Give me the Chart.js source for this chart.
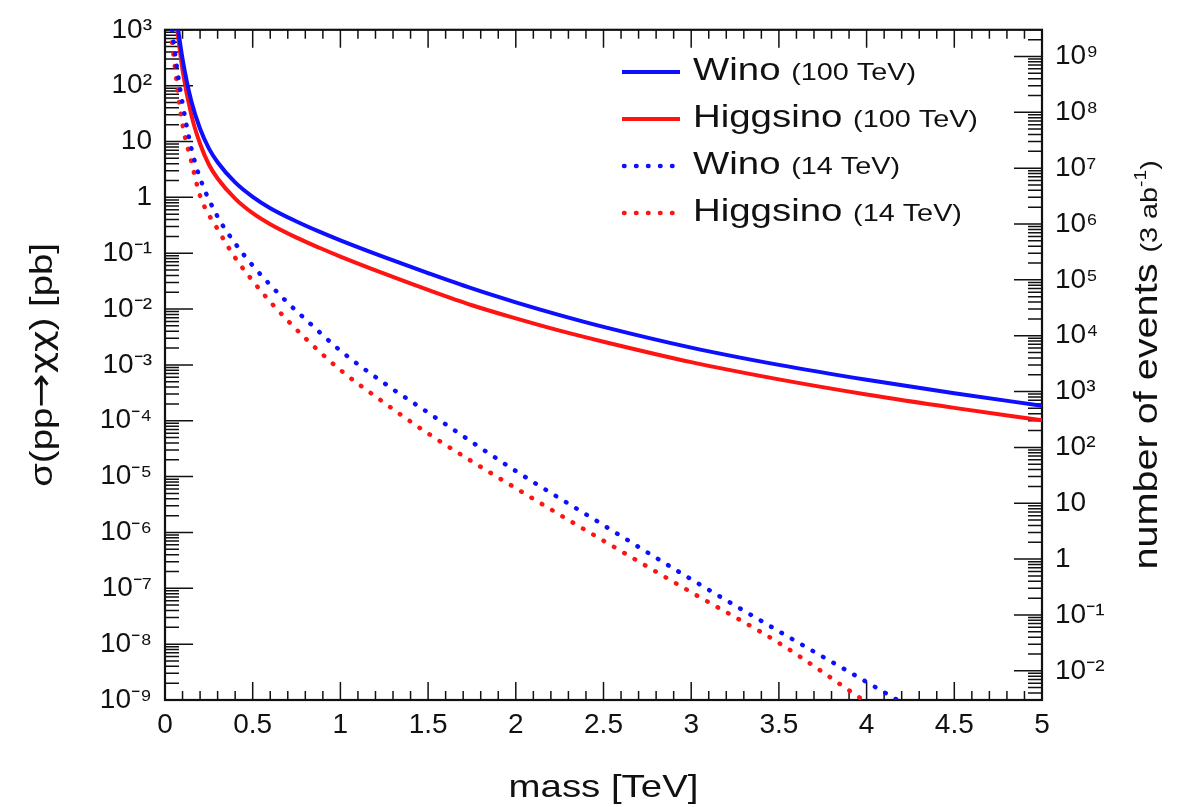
<!DOCTYPE html>
<html>
<head>
<meta charset="utf-8">
<script src="https://cdn.jsdelivr.net/npm/chart.js@4.4.1/dist/chart.umd.min.js"></script>
<style>
  html, body { margin: 0; padding: 0; background: #fff; }
  canvas { display: block; }
</style>
</head>
<body>
<canvas id="xsec-chart" width="1181" height="807"></canvas>
<script>
// cross sections in pb (mass in TeV)
const massW100 = [0.075, 0.1, 0.15, 0.2, 0.25, 0.3, 0.4, 0.5, 0.6, 0.75, 0.88, 1.0, 1.25, 1.5, 1.75, 2.0, 2.25, 2.5, 3.0, 3.5, 4.0, 4.5, 5.0];
const xsecW100 = [1000, 300, 53, 16.9, 7.55, 4.25, 1.85, 1.02, 0.64, 0.37, 0.243, 0.17, 0.085, 0.044, 0.0234, 0.0132, 0.0078, 0.0048, 0.00204, 0.0010, 0.00054, 0.00031, 0.000186];

const massH100 = [0.07, 0.1, 0.15, 0.2, 0.25, 0.3, 0.4, 0.5, 0.6, 0.75, 0.88, 1.0, 1.25, 1.5, 1.75, 2.0, 2.25, 2.5, 3.0, 3.5, 4.0, 4.5, 5.0];
const xsecH100 = [1000, 190, 30, 9.1, 3.87, 2.18, 0.95, 0.52, 0.33, 0.19, 0.125, 0.087, 0.043, 0.022, 0.0117, 0.0068, 0.0041, 0.0026, 0.00112, 0.00055, 0.000295, 0.00017, 0.000102];

const massW14 = [0.04, 0.07, 0.1, 0.15, 0.2, 0.3, 0.4, 0.5, 0.6, 0.7, 0.8, 1.0, 1.25, 1.5, 2.0, 2.5, 3.0, 3.5, 4.0, 4.2];
const xsecW14 = [1000, 190, 48, 7.6, 2.2, 0.45, 0.15, 0.060, 0.027, 0.0129, 0.0066, 0.0018, 0.00047, 0.00014, 1.26e-5, 1.35e-6, 1.45e-7, 1.7e-8, 2.1e-9, 9e-10];

const massH14 = [0.04, 0.07, 0.1, 0.15, 0.2, 0.3, 0.4, 0.5, 0.6, 0.7, 0.8, 1.0, 1.25, 1.5, 2.0, 2.5, 3.0, 3.5, 3.98];
const xsecH14 = [600, 95, 20, 4.4, 1.07, 0.27, 0.083, 0.032, 0.0135, 0.0062, 0.0030, 0.00081, 0.00021, 5.9e-5, 6.2e-6, 7.1e-7, 8.5e-8, 1.05e-8, 1.0e-9];

const seriesNames = ['Wino', 'Higgsino', 'Wino', 'Higgsino'];
const seriesEnergies = ['100 TeV', '100 TeV', '14 TeV', '14 TeV'];

// axes
const xTickValues = [0, 0.5, 1, 1.5, 2, 2.5, 3, 3.5, 4, 4.5, 5];
const xTickLabels = ['0', '0.5', '1', '1.5', '2', '2.5', '3', '3.5', '4', '4.5', '5'];
const yTickValues = [1e-9, 1e-8, 1e-7, 1e-6, 1e-5, 1e-4, 1e-3, 1e-2, 1e-1, 1, 10, 1e2, 1e3];
const yTickLabels = ['10⁻⁹', '10⁻⁸', '10⁻⁷', '10⁻⁶', '10⁻⁵', '10⁻⁴', '10⁻³', '10⁻²', '10⁻¹', '1', '10', '10²', '10³'];
const y2TickValues = [1e-2, 1e-1, 1, 10, 1e2, 1e3, 1e4, 1e5, 1e6, 1e7, 1e8, 1e9];
const y2TickLabels = ['10⁻²', '10⁻¹', '1', '10', '10²', '10³', '10⁴', '10⁵', '10⁶', '10⁷', '10⁸', '10⁹'];
const yMin = 1e-9, yMax = 1e3;
const lumi = 3e6; // 3 ab^-1 in pb^-1

const BLUE = 'rgb(15, 15, 255)';
const RED = 'rgb(255, 20, 20)';
const FONT = '"Liberation Sans", Arial, Helvetica, sans-serif';
const SYM = '"DejaVu Sans", sans-serif';
const STRETCH = 1.2;

function pts(xs, ys) {
  return xs.map((m, i) => ({ x: m, y: ys[i] }));
}

function textW(ctx, txt, font) {
  ctx.font = font;
  return ctx.measureText(txt).width * STRETCH;
}
function runW(ctx, parts) {
  return parts.reduce((s, p) => s + textW(ctx, p.t, p.font), 0);
}
// draw pieces of text with different fonts one after the other along a baseline
function drawRun(ctx, parts, x, y, rot) {
  ctx.save();
  ctx.translate(x, y);
  if (rot) ctx.rotate(rot);
  let off = 0;
  for (const p of parts) {
    ctx.save();
    ctx.translate(off, p.dy || 0);
    ctx.scale(STRETCH, 1);
    ctx.font = p.font;
    ctx.fillText(p.t, 0, 0);
    ctx.restore();
    off += textW(ctx, p.t, p.font);
  }
  ctx.restore();
}

// frame plus inward ticks on all four sides
const frameTicks = {
  id: 'frameTicks',
  beforeDatasetsDraw(chart) {
    const { ctx, chartArea: a, scales } = chart;
    ctx.save();
    ctx.strokeStyle = '#111';
    ctx.lineWidth = 1.5;
    ctx.beginPath();
    for (let i = 0; i <= 50; i++) {
      const px = scales.x.getPixelForValue(i / 10);
      const len = i % 5 === 0 ? 18 : 9;
      ctx.moveTo(px, a.bottom); ctx.lineTo(px, a.bottom - len);
      ctx.moveTo(px, a.top); ctx.lineTo(px, a.top + len);
    }
    const logTicks = (scale, x0, dir) => {
      const lo = Math.floor(Math.log10(scale.min));
      const hi = Math.ceil(Math.log10(scale.max));
      for (let e = lo; e <= hi; e++) {
        for (let k = 1; k < 10; k++) {
          const v = k * Math.pow(10, e);
          if (v < scale.min * 0.999 || v > scale.max * 1.001) continue;
          const py = scale.getPixelForValue(v);
          const len = k === 1 ? 28 : 14;
          ctx.moveTo(x0, py); ctx.lineTo(x0 + dir * len, py);
        }
      }
    };
    logTicks(scales.y, a.left, 1);
    logTicks(scales.y2, a.right, -1);
    ctx.stroke();
    ctx.lineWidth = 2.2;
    ctx.strokeRect(a.left, a.top, a.right - a.left, a.bottom - a.top);
    ctx.restore();
  }
};

// axis titles and legend (mixed font sizes)
const annotations = {
  id: 'annotations',
  afterDraw(chart) {
    const { ctx, chartArea: a } = chart;
    const big = '32px ' + FONT;
    const small = '24px ' + FONT;
    const tiny = '16px ' + FONT;
    ctx.save();
    ctx.fillStyle = '#111';
    ctx.textBaseline = 'alphabetic';
    ctx.textAlign = 'left';
    const cy = (a.top + a.bottom) / 2;

    // x title
    const xt = [{ t: 'mass [TeV]', font: big }];
    drawRun(ctx, xt, (a.left + a.right) / 2 - runW(ctx, xt) / 2, 797, 0);

    // left title
    const yt = [
      { t: 'σ(pp', font: big },
      { t: '→', font: '34px ' + SYM },
      { t: 'χχ', font: '31px ' + SYM },
      { t: ') [pb]', font: big }
    ];
    drawRun(ctx, yt, 52, cy + runW(ctx, yt) / 2, -Math.PI / 2);

    // right title
    const rt = [
      { t: 'number of events ', font: '33px ' + FONT },
      { t: '(3 ab', font: small },
      { t: '-1', font: tiny, dy: -11 },
      { t: ')', font: small }
    ];
    drawRun(ctx, rt, 1157, cy + runW(ctx, rt) / 2, -Math.PI / 2);

    // legend
    chart.data.datasets.forEach((ds, i) => {
      const ly = 72 + i * 47;
      ctx.save();
      ctx.strokeStyle = ds.borderColor;
      ctx.lineWidth = ds.borderWidth;
      ctx.lineCap = ds.borderCapStyle || 'butt';
      ctx.setLineDash(ds.borderDash || []);
      ctx.beginPath();
      ctx.moveTo(ds.borderDash ? 624 : 622, ly);
      ctx.lineTo(680, ly);
      ctx.stroke();
      ctx.restore();
      drawRun(ctx, [
        { t: seriesNames[i] + ' ', font: big },
        { t: '(' + seriesEnergies[i] + ')', font: small }
      ], 693, ly + 8, 0);
    });
    ctx.restore();
  }
};

function solid(label, xs, ys, color) {
  return {
    label: label, data: pts(xs, ys), borderColor: color, backgroundColor: color,
    borderWidth: 4, pointRadius: 0, cubicInterpolationMode: 'monotone', clip: 0
  };
}
function dotted(label, xs, ys, color) {
  return {
    label: label, data: pts(xs, ys), borderColor: color, backgroundColor: color,
    borderWidth: 4.5, borderDash: [0.5, 11.5], borderCapStyle: 'round',
    pointRadius: 0, cubicInterpolationMode: 'monotone', clip: 0
  };
}

const tickFont = { family: FONT, size: 28 };

const ctx = document.getElementById('xsec-chart').getContext('2d');
new Chart(ctx, {
  type: 'line',
  data: {
    datasets: [
      solid(seriesNames[0] + ' (' + seriesEnergies[0] + ')', massW100, xsecW100, BLUE),
      solid(seriesNames[1] + ' (' + seriesEnergies[1] + ')', massH100, xsecH100, RED),
      dotted(seriesNames[2] + ' (' + seriesEnergies[2] + ')', massW14, xsecW14, BLUE),
      dotted(seriesNames[3] + ' (' + seriesEnergies[3] + ')', massH14, xsecH14, RED)
    ]
  },
  options: {
    responsive: false,
    animation: false,
    devicePixelRatio: 1,
    layout: { padding: { top: 22, left: 0, right: 0, bottom: 0 } },
    plugins: { legend: { display: false }, tooltip: { enabled: false } },
    scales: {
      x: {
        type: 'linear', min: 0, max: 5,
        afterBuildTicks: (s) => { s.ticks = xTickValues.map(v => ({ value: v })); },
        afterFit: (s) => { s.height = 107; },
        ticks: { callback: (v, i) => xTickLabels[i], font: tickFont, color: '#111', padding: 8, maxRotation: 0, autoSkip: false },
        grid: { display: false, drawTicks: false },
        border: { display: false }
      },
      y: {
        type: 'logarithmic', position: 'left', min: yMin, max: yMax,
        afterBuildTicks: (s) => { s.ticks = yTickValues.map(v => ({ value: v })); },
        afterFit: (s) => { s.width = 165; },
        ticks: { callback: (v, i) => yTickLabels[i], font: tickFont, color: '#111', padding: 13, autoSkip: false },
        grid: { display: false, drawTicks: false },
        border: { display: false }
      },
      y2: {
        type: 'logarithmic', position: 'right', min: yMin * lumi, max: yMax * lumi,
        afterBuildTicks: (s) => { s.ticks = y2TickValues.map(v => ({ value: v })); },
        afterFit: (s) => { s.width = 139; },
        ticks: { callback: (v, i) => y2TickLabels[i], font: tickFont, color: '#111', padding: 13, autoSkip: false },
        grid: { display: false, drawTicks: false },
        border: { display: false }
      }
    }
  },
  plugins: [frameTicks, annotations]
});
</script>
</body>
</html>
